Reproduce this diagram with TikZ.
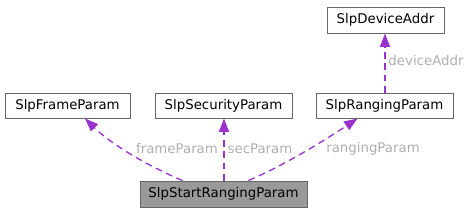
\documentclass[tikz,border=0pt]{standalone}
\usepackage{fontspec}
\setmainfont{DejaVu Sans}
\usetikzlibrary{arrows.meta,calc}
\definecolor{edgecol}{RGB}{154,50,205}
\definecolor{boxline}{RGB}{102,102,102}
\definecolor{labcol}{RGB}{175,175,175}
\definecolor{hilite}{RGB}{153,153,153}
\tikzset{
  cls/.style={draw=boxline,fill=white,line width=0.75pt,minimum height=18.75pt,inner sep=0pt,font=\fontsize{10}{12}\selectfont},
  dep/.style={draw=edgecol,line width=1pt,dash pattern={on 5pt off 3.5pt},-{Triangle[length=10pt,width=7.5pt]}},
  elab/.style={text=labcol,inner sep=0pt,font=\fontsize{10}{12}\selectfont}
}
\begin{document}
\begin{tikzpicture}[x=0.75pt,y=0.75pt,yscale=-1,xscale=1]
\useasboundingbox (0,0) rectangle (468,212);
% classes
\node [cls,minimum width=93.75pt] (frame) at (67.5,105.5) {SlpFrameParam};
\node [cls,minimum width=102.75pt] (sec) at (223.5,105.5) {SlpSecurityParam};
\node [cls,minimum width=102.75pt] (rng) at (384.5,105.5) {SlpRangingParam};
\node [cls,minimum width=87.75pt,minimum height=19.5pt] (dev) at (385.5,20) {SlpDeviceAddr};
\node [cls,fill=hilite,minimum width=125.25pt,minimum height=19.5pt] (start) at (223.5,194) {SlpStartRangingParam};
% members
\draw [dep] ($(start.north)+(-41,0)$) .. controls (150,167) and (112,145) .. ($(frame.south)+(17.5,0)$);
\draw [dep] ($(start.north)+(0.5,0)$) -- ($(sec.south)+(0.5,0)$);
\draw [dep] ($(start.north)+(25,0)$) .. controls (285,165) and (325,140) .. ($(rng.south)+(-27,0)$);
\draw [dep] ($(rng.north)+(0.5,0)$) -- ($(dev.south)+(-0.5,0)$);
% labels
\node [elab] (lframe) at (177,149) {frameParam};
\node [elab] (lsec) at (260,149) {secParam};
\node [elab] (lrng) at (373,149) {rangingParam};
\node [elab] (ldev) at (426,61) {deviceAddr};
\end{tikzpicture}
\end{document}
